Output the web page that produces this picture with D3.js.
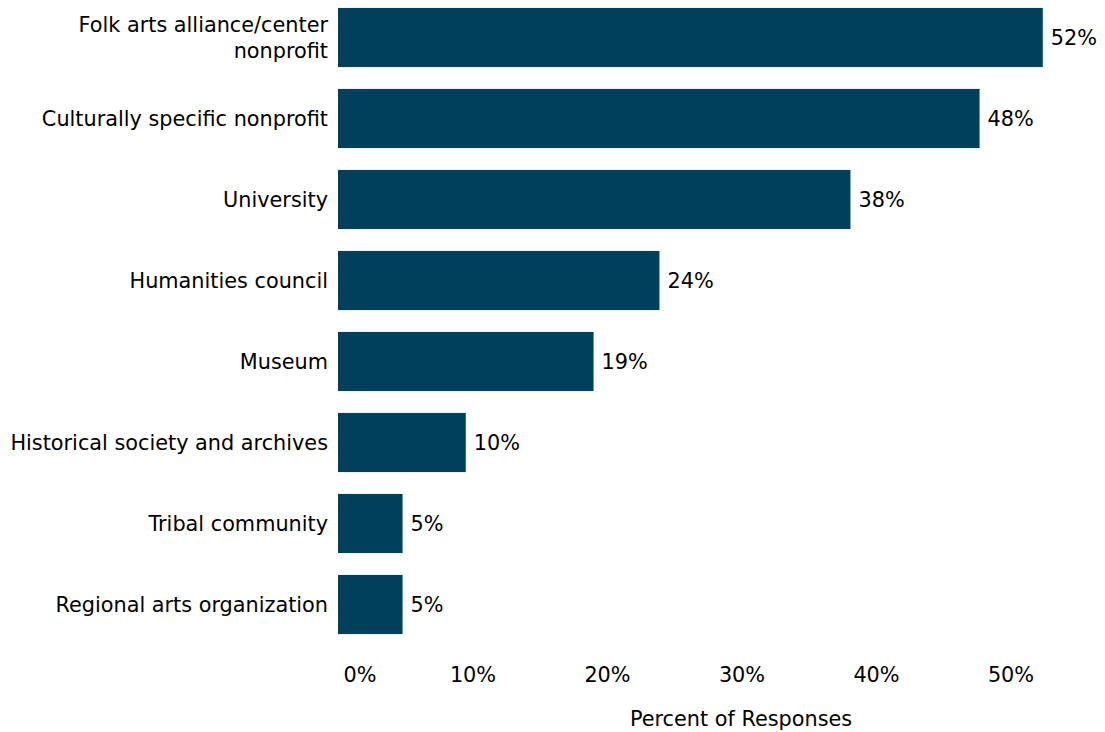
<!DOCTYPE html>
<html>
<head>
<meta charset="utf-8">
<script src="https://cdn.jsdelivr.net/npm/d3@7"></script>
<style>
  html, body { margin: 0; padding: 0; background: #ffffff; }
  svg { display: block; font-family: "DejaVu Sans", Verdana, sans-serif; }
</style>
</head>
<body>
<svg id="chart" width="1105" height="732"></svg>
<script>
// Organization types partnering on folk arts work (share of responses)
const categories = [
  "Folk arts alliance/center nonprofit",
  "Culturally specific nonprofit",
  "University",
  "Humanities council",
  "Museum",
  "Historical society and archives",
  "Tribal community",
  "Regional arts organization"
];
const percents = [0.524, 0.477, 0.381, 0.239, 0.190, 0.095, 0.048, 0.048];
const tickValues = [0, 0.1, 0.2, 0.3, 0.4, 0.5];
const axisTitle = "Percent of Responses";

const data = categories.map((c, i) => ({ category: c, value: percents[i] }));

const svg = d3.select("#chart");
const fontSize = 20.8;
const barColor = "#01405d";

const x = d3.scaleLinear().domain([0, 0.5]).range([338, 1010.5]);
const y = d3.scaleBand()
  .domain(categories)
  .range([-3, 645])
  .paddingInner(0.27)
  .paddingOuter(0.135);

const fmt = d3.format(".0%");

// Bars
svg.append("g")
  .selectAll("rect")
  .data(data)
  .join("rect")
  .attr("x", x(0))
  .attr("y", d => y(d.category))
  .attr("width", d => x(d.value) - x(0))
  .attr("height", y.bandwidth())
  .attr("fill", barColor);

// Value labels at bar ends
svg.append("g")
  .selectAll("text")
  .data(data)
  .join("text")
  .attr("x", d => x(d.value) + 8)
  .attr("y", d => y(d.category) + y.bandwidth() / 2)
  .attr("dy", "0.36em")
  .attr("font-size", fontSize)
  .attr("fill", "#000")
  .text(d => fmt(d.value));

// Category labels, wrapping the long first one onto two lines
const wrapLines = {
  "Folk arts alliance/center nonprofit": ["Folk arts alliance/center", "nonprofit"]
};
const catG = svg.append("g");
categories.forEach(c => {
  const lines = wrapLines[c] || [c];
  const cy = y(c) + y.bandwidth() / 2;
  const lh = 26;
  const t = catG.append("text")
    .attr("text-anchor", "end")
    .attr("font-size", fontSize)
    .attr("fill", "#000");
  lines.forEach((ln, i) => {
    t.append("tspan")
      .attr("x", 328)
      .attr("y", cy + (i - (lines.length - 1) / 2) * lh)
      .attr("dy", "0.36em")
      .text(ln);
  });
});

// X axis (labels only)
const axis = d3.axisBottom(x)
  .tickValues(tickValues)
  .tickFormat(fmt)
  .tickSize(0)
  .tickPadding(0);

const axG = svg.append("g")
  .attr("transform", "translate(0,667)")
  .call(axis);
axG.select(".domain").remove();
axG.selectAll("text")
  .attr("font-size", fontSize)
  .attr("font-family", "DejaVu Sans, Verdana, sans-serif")
  .attr("fill", "#000")
  .attr("dy", "0.72em");
// keep the zero label clear of the category column
axG.selectAll(".tick").filter(d => d === 0).select("text")
  .attr("text-anchor", "start")
  .attr("x", 5);

// Axis title
svg.append("text")
  .attr("x", 741)
  .attr("y", 726)
  .attr("text-anchor", "middle")
  .attr("font-size", fontSize)
  .attr("fill", "#000")
  .text(axisTitle);
</script>
</body>
</html>
